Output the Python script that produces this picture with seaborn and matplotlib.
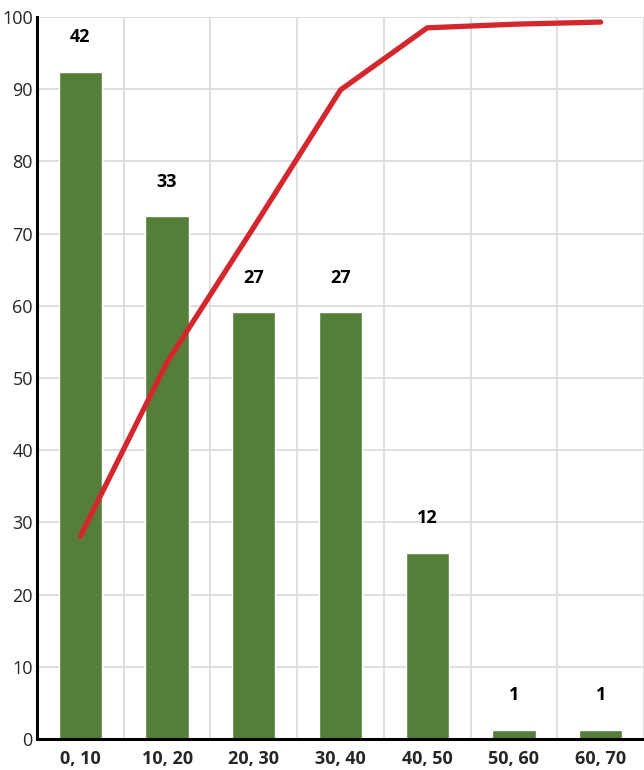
import matplotlib
matplotlib.use("Agg")
import matplotlib.pyplot as plt
import seaborn as sns
import pandas as pd

# -----------------------------
# Data
# -----------------------------
bins = ["0, 10", "10, 20", "20, 30", "30, 40", "40, 50", "50, 60", "60, 70"]
counts = [42, 33, 27, 27, 12, 1, 1]
bar_heights = [92.4, 72.4, 59.1, 59.1, 25.8, 1.25, 1.25]
cumulative_pct = [28.1, 52.2, 70.9, 89.9, 98.5, 99.0, 99.3]

df = pd.DataFrame({"bin": bins, "count": counts,
                   "height": bar_heights, "cum": cumulative_pct})

# -----------------------------
# Style
# -----------------------------
sns.set_theme(style="white")
plt.rcParams["font.family"] = ["Liberation Sans Narrow", "Open Sans", "DejaVu Sans"]

green = "#557e39"
red = "#d4262d"

fig = plt.figure(figsize=(6.44, 7.70), dpi=100)
ax = fig.add_axes([37 / 644, 31 / 770, 607 / 644, 722 / 770])

sns.barplot(data=df, x="bin", y="height", color=green, width=0.5,
            saturation=1, ax=ax, zorder=2)
sns.lineplot(data=df, x="bin", y="cum", color=red, linewidth=3.8,
             ax=ax, zorder=3, sort=False)
for line in ax.lines:
    line.set_solid_capstyle("round")
    line.set_solid_joinstyle("round")

for i, (h, c) in enumerate(zip(bar_heights, counts)):
    ax.annotate(str(c), (i, h), xytext=(0, 25), textcoords="offset points",
                ha="center", va="center", fontsize=13, fontweight="bold",
                color="black")

# -----------------------------
# Axes
# -----------------------------
ax.set_xlim(-0.5, len(bins) - 0.5)
ax.set_ylim(0, 100)
ax.set_yticks(range(0, 101, 10))
ax.set_xlabel("")
ax.set_ylabel("")

# grid lines at category boundaries
for b in range(1, len(bins) + 1):
    ax.axvline(b - 0.5, color="#d9d9d9", linewidth=1.2, zorder=0)
for yv in range(10, 101, 10):
    ax.axhline(yv, color="#d9d9d9", linewidth=1.2, zorder=0)

ax.set_xticks(range(len(bins)))
ax.set_xticklabels(bins, fontsize=13, fontweight="bold")
ax.tick_params(axis="x", length=0, pad=8)
ax.set_xticks([b + 0.5 for b in range(len(bins))], minor=True)
ax.tick_params(axis="x", which="minor", length=7, width=2, color="black",
               direction="out")
ax.tick_params(axis="y", length=0, labelsize=13, pad=3)

for side in ["top", "right"]:
    ax.spines[side].set_visible(False)
ax.spines["left"].set_linewidth(2.2)
ax.spines["bottom"].set_linewidth(2.2)
ax.spines["left"].set_color("black")
ax.spines["bottom"].set_color("black")

plt.savefig("out.png", dpi=100)
plt.close()
